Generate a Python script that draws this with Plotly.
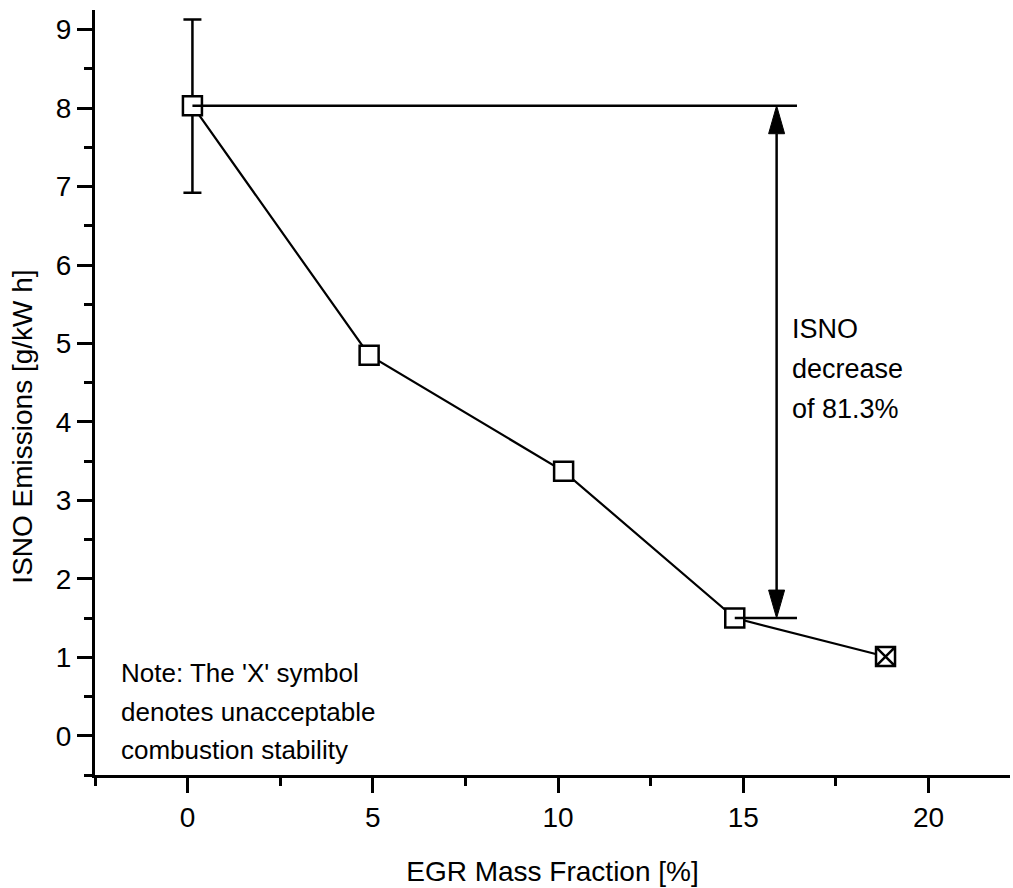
import plotly.graph_objects as go

# EGR sweep: ISNO emissions vs EGR mass fraction
egr = [0.13, 4.9, 10.15, 14.77]
isno = [8.03, 4.85, 3.37, 1.50]
err_plus = [1.10, 0, 0, 0]
err_minus = [1.11, 0, 0, 0]

# point with unacceptable combustion stability
egr_unstable = [18.84]
isno_unstable = [1.01]

x_ticks = [0, 5, 10, 15, 20]
y_ticks = list(range(0, 10))

baseline = isno[0]
best = isno[-1]
decrease_pct = (baseline - best) / baseline * 100

note_lines = ["Note: The 'X' symbol", "denotes unacceptable", "combustion stability"]
decrease_lines = ["ISNO", "decrease", f"of {decrease_pct:.1f}%"]

FONT = "Liberation Sans, Arial, sans-serif"
X_RANGE = [-2.5, 22.2]
Y_RANGE = [-0.5, 9.25]
W, H = 1013, 888
M = dict(l=95, r=3, t=10, b=113)

# data units per pixel, used to size the arrowheads and space text lines
dx = (X_RANGE[1] - X_RANGE[0]) / (W - M["l"] - M["r"])
dy = (Y_RANGE[1] - Y_RANGE[0]) / (H - M["t"] - M["b"])

arrow_x = 15.9
ref_line_end = 16.45
head_len = 28 * dy
head_half = 8 * dx

fig = go.Figure()

# connecting line across all points
fig.add_trace(go.Scatter(
    x=egr + egr_unstable, y=isno + isno_unstable, mode="lines",
    line=dict(color="black", width=2.2), showlegend=False, hoverinfo="skip"))

fig.add_trace(go.Scatter(
    x=egr, y=isno, mode="markers",
    marker=dict(symbol="square", size=19, color="white",
                line=dict(color="black", width=2.5)),
    error_y=dict(type="data", array=err_plus, arrayminus=err_minus,
                 color="black", thickness=2.5, width=9),
    showlegend=False))

fig.add_trace(go.Scatter(
    x=egr_unstable, y=isno_unstable, mode="markers",
    marker=dict(symbol="square-x", size=19, color="white",
                line=dict(color="black", width=2.5)),
    showlegend=False))

# reference lines at baseline and lowest acceptable value
fig.add_shape(type="line", x0=egr[0], x1=ref_line_end, y0=baseline, y1=baseline,
              line=dict(color="black", width=2.5))
fig.add_shape(type="line", x0=egr[-1], x1=ref_line_end, y0=best, y1=best,
              line=dict(color="black", width=2.5))

# double-headed arrow between the two levels
fig.add_shape(type="line", x0=arrow_x, x1=arrow_x, y0=best + head_len, y1=baseline - head_len,
              line=dict(color="black", width=2.5))
for tip, sign in ((baseline, -1), (best, 1)):
    base = tip + sign * head_len
    fig.add_shape(
        type="path",
        path=(f"M {arrow_x} {tip} L {arrow_x - head_half} {base} "
              f"L {arrow_x + head_half} {base} Z"),
        fillcolor="black", line=dict(color="black", width=1))

# text blocks, one annotation per line
for i, line in enumerate(decrease_lines):
    fig.add_annotation(x=16.25, y=5.18 - i * 40 * dy, xref="x", yref="y",
                       xanchor="left", yanchor="middle", text=line, showarrow=False,
                       font=dict(family=FONT, size=27, color="black"))

for i, line in enumerate(note_lines):
    fig.add_annotation(x=-1.85, y=0.80 - i * 38.5 * dy, xref="x", yref="y",
                       xanchor="left", yanchor="middle", text=line, showarrow=False,
                       font=dict(family=FONT, size=26, color="black"))

# y-axis title, placed slightly below the axis midpoint
fig.add_annotation(x=-0.079, y=0.455, xref="paper", yref="paper",
                   xanchor="center", yanchor="middle", textangle=-90,
                   text="ISNO Emissions [g/kW h]", showarrow=False,
                   font=dict(family=FONT, size=28, color="black"))

fig.update_xaxes(
    range=X_RANGE, tickvals=x_ticks, ticks="outside", ticklen=15,
    tickwidth=2.5, tickcolor="black", showline=True, linewidth=3, linecolor="black",
    showgrid=False, zeroline=False,
    minor=dict(tickvals=[v + 2.5 for v in [-5] + x_ticks], ticks="outside", ticklen=8,
               tickwidth=2.5, tickcolor="black"),
    title=dict(text="EGR Mass Fraction [%]", font=dict(family=FONT, size=28, color="black"),
               standoff=30),
    tickfont=dict(family=FONT, size=28, color="black"))

fig.update_yaxes(
    range=Y_RANGE, tickvals=y_ticks, ticks="outside", ticklen=15,
    tickwidth=2.5, tickcolor="black", showline=True, linewidth=3, linecolor="black",
    showgrid=False, zeroline=False,
    minor=dict(tickvals=[v + 0.5 for v in [-1] + y_ticks], ticks="outside", ticklen=8,
               tickwidth=2.5, tickcolor="black"),
    tickfont=dict(family=FONT, size=28, color="black"))

fig.update_layout(
    width=W, height=H, margin=M,
    plot_bgcolor="white", paper_bgcolor="white", showlegend=False)

fig.write_html("out.html")
